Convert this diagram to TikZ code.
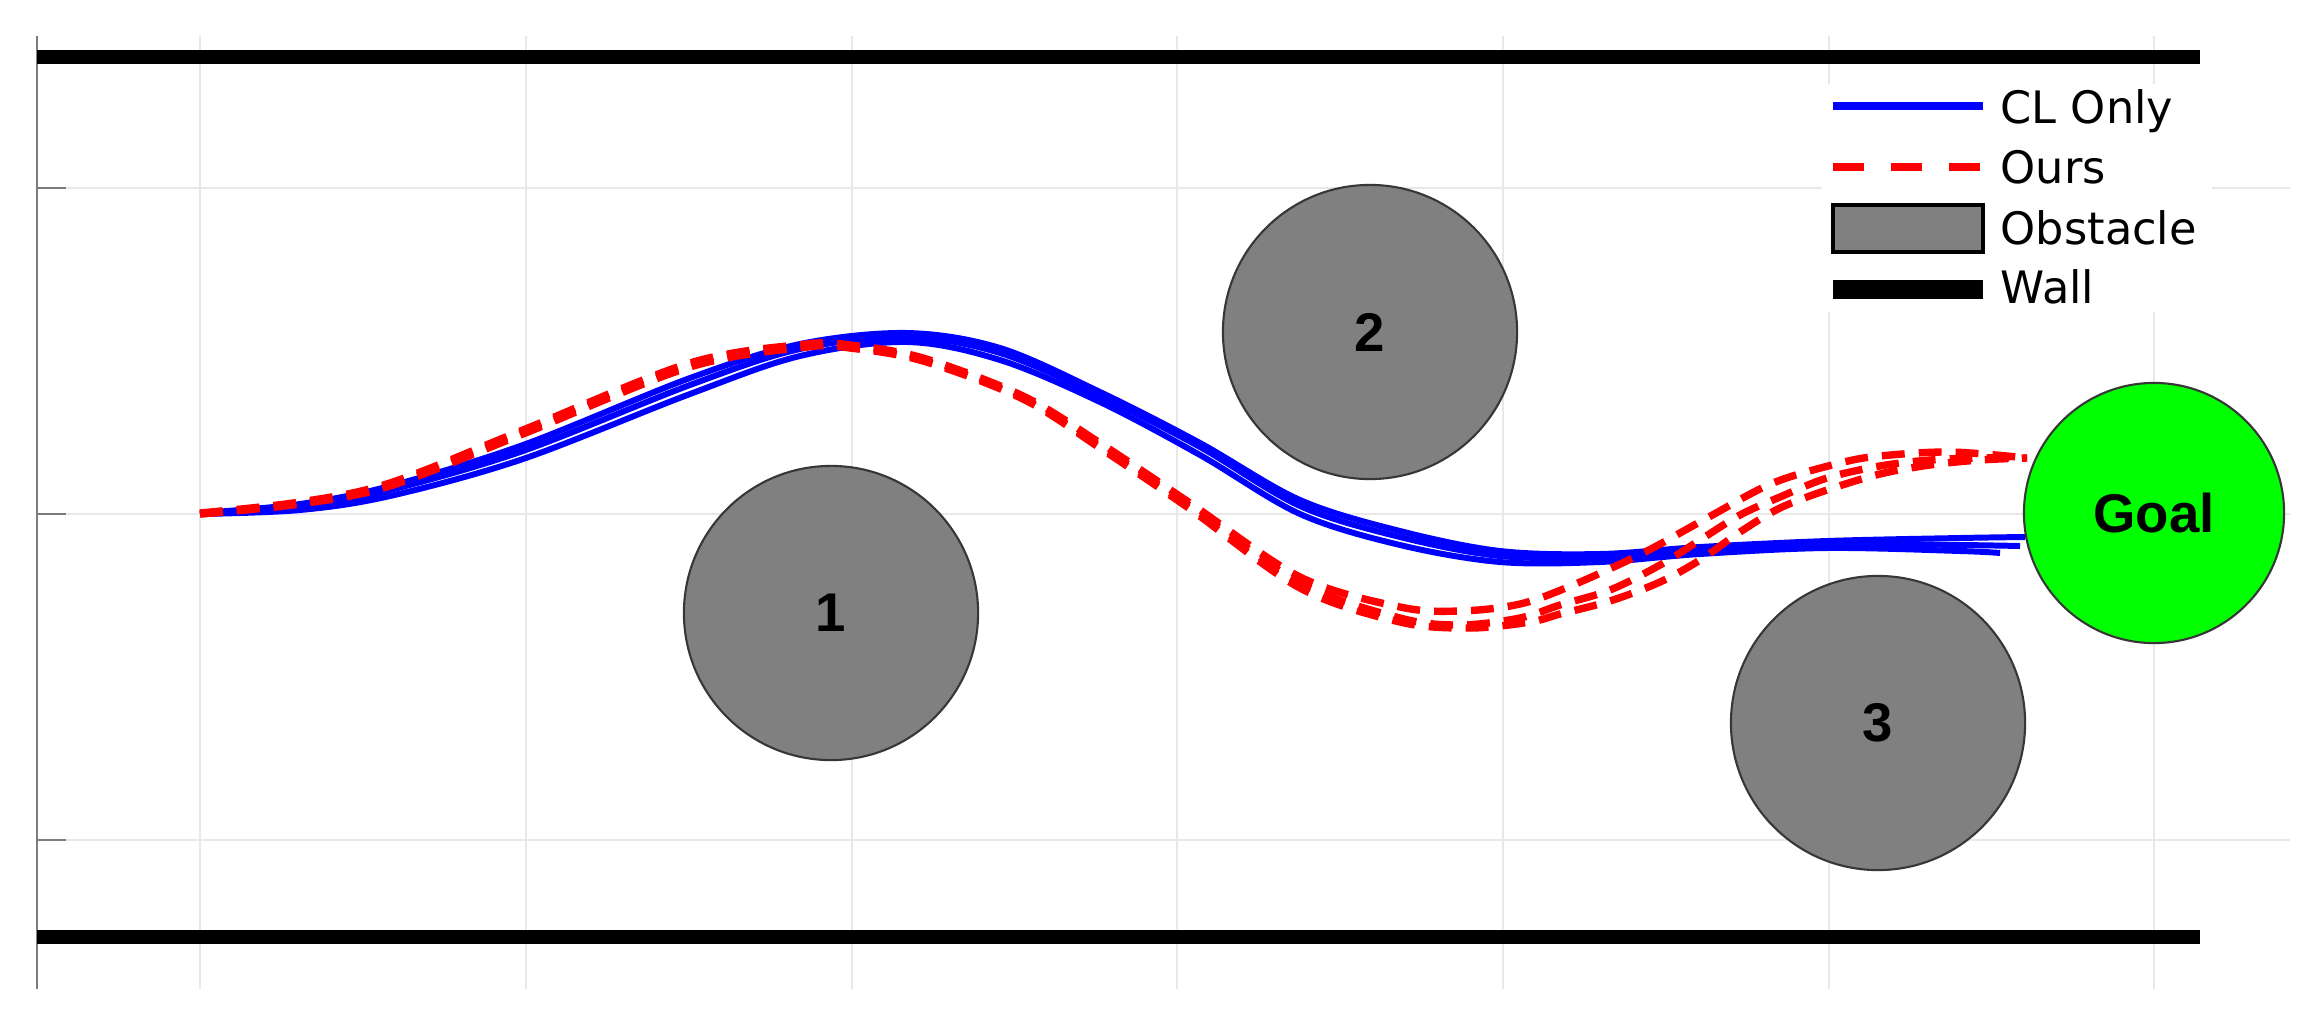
\documentclass[tikz,border=0pt]{standalone}
\usepackage{fontspec}
\setmainfont{DejaVu Sans}
\newfontfamily\labfont{Liberation Sans}
\definecolor{obsgray}{RGB}{128,128,128}
\definecolor{edgegray}{RGB}{55,55,55}
\definecolor{goalgreen}{RGB}{0,255,0}
\definecolor{gridgray}{RGB}{232,232,232}
\definecolor{axisgray}{RGB}{125,125,125}
\begin{document}
\begin{tikzpicture}[x=0.01cm,y=-0.01cm,
  gridline/.style={draw=gridgray, line width=0.6pt},
  axisline/.style={draw=axisgray, line width=0.6pt},
  wall/.style={draw=black, line width=3.8pt},
  cltraj/.style={draw=blue, line width=1.7pt, line join=round},
  ourtraj/.style={draw=red, line width=2.1pt, dash pattern=on 6.5pt off 4pt},
  obst/.style={circle, fill=obsgray, draw=edgegray, line width=0.6pt, minimum size=2.94cm, inner sep=0pt, font=\labfont\bfseries\fontsize{15.5pt}{18pt}\selectfont},
  goalst/.style={obst, fill=goalgreen, minimum size=2.6cm},
  legtext/.style={anchor=base west, inner sep=0pt, font=\fontsize{12.7pt}{15pt}\selectfont}]
\useasboundingbox (0,0) rectangle (2322,1027);
\fill[white] (0,0) rectangle (2322,1027);
% grid
\foreach \gx in {200,526,852,1177,1503,1829,2154} \draw[gridline] (\gx,36) -- (\gx,989);
\foreach \gy in {188,514,840} \draw[gridline] (37,\gy) -- (2290,\gy);
% axis
\draw[axisline] (37,36) -- (37,989);
\foreach \gy in {188,514,840} \draw[axisline] (37,\gy) -- (66,\gy);
% walls
\draw[wall] (37,57) -- (2200,57);
\draw[wall] (37,937) -- (2200,937);
% CL only trajectories
\draw[cltraj] plot[smooth, tension=0.55] coordinates {(200,513) (300,504) (390,486) (523,445) (690,378) (800,344) (907,333) (1000,348) (1100,392) (1200,443) (1300,500) (1400,531) (1500,551) (1600,554) (1700,547) (1827,541) (1960,538) (2025,537)};
\draw[cltraj] plot[smooth, tension=0.55] coordinates {(200,514) (300,507) (390,490) (523,451) (690,385) (800,349) (907,337) (1000,353) (1100,396) (1200,447) (1300,506) (1400,537) (1500,556) (1600,557) (1700,550) (1827,544) (1960,545) (2020,546)};
\draw[cltraj] plot[smooth, tension=0.55] coordinates {(200,514) (300,510) (390,496) (523,459) (690,394) (800,356) (907,342) (1000,360) (1100,402) (1200,455) (1300,514) (1400,545) (1500,562) (1600,562) (1700,554) (1827,548) (1960,551) (2000,553)};
% Ours trajectories
\draw[ourtraj] plot[smooth, tension=0.55] coordinates {(200,513) (300,502) (390,483) (523,430) (690,363) (807,344) (850,345) (923,358) (1023,396) (1100,443) (1190,503) (1300,577) (1400,607) (1460,611) (1520,604) (1573,585) (1643,553) (1707,518) (1773,483) (1840,463) (1880,456) (1950,452) (2027,458)};
\draw[ourtraj] plot[smooth, tension=0.55] coordinates {(200,514) (300,503) (390,485) (523,432) (690,365) (807,346) (850,347) (923,360) (1023,398) (1100,446) (1190,506) (1300,583) (1400,618) (1460,625) (1520,618) (1560,605) (1610,590) (1660,565) (1700,540) (1740,515) (1780,497) (1827,478) (1880,466) (1930,460) (1980,458) (2027,458)};
\draw[ourtraj] plot[smooth, tension=0.55] coordinates {(200,514) (300,504) (390,486) (523,434) (690,367) (807,347) (850,348) (923,361) (1023,399) (1100,448) (1190,509) (1300,588) (1400,622) (1470,628) (1530,622) (1560,614) (1610,601) (1660,582) (1700,560) (1740,532) (1780,508) (1827,490) (1880,474) (1930,465) (1980,460) (2027,458)};
% obstacles and goal
\node[obst] (ob1) at (831,613) {1};
\node[obst] (ob2) at (1370,332) {2};
\node[obst] (ob3) at (1878,723) {3};
\node[goalst] (goal) at (2154,513) {Goal};
% legend
\fill[white] (1822,84) rectangle (2212,312);
\draw[draw=blue, line width=2pt] (1833,106) -- (1983,106);
\node[legtext] (lg1) at (2000,123) {CL Only};
\draw[draw=red, line width=2.4pt, dash pattern=on 8.8pt off 7.7pt] (1833,167) -- (1983,167);
\node[legtext] (lg2) at (2000,183) {Ours};
\draw[fill=obsgray, draw=black, line width=0.9pt] (1833,205) rectangle (1983,252);
\node[legtext] (lg3) at (2000,244) {Obstacle};
\fill[black] (1833,280) rectangle (1983,299);
\node[legtext] (lg4) at (2000,303) {Wall};
\end{tikzpicture}
\end{document}
